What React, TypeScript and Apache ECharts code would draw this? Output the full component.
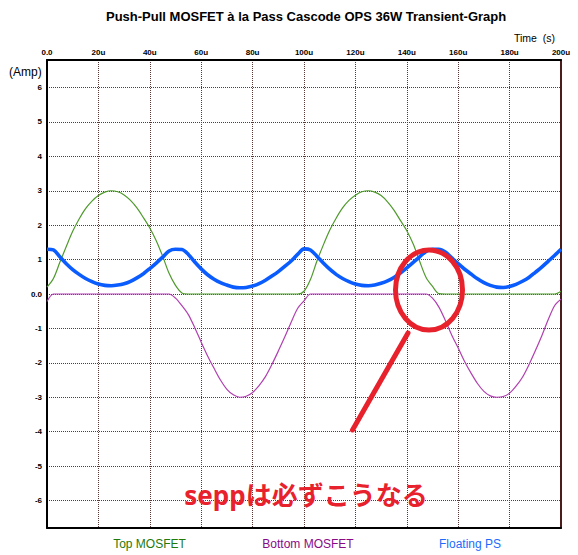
import React, { useEffect, useRef } from "react";
import * as echarts from "echarts";

const titleText = "Push-Pull MOSFET à la Pass Cascode OPS 36W Transient-Graph";
const seriesNames = ["Top MOSFET", "Bottom MOSFET", "Floating PS"];
const xTickValues = [0, 20, 40, 60, 80, 100, 120, 140, 160, 180, 200];
const xTickLabels = ["0.0", "20u", "40u", "60u", "80u", "100u", "120u", "140u", "160u", "180u", "200u"];
const yTickValues = [-6, -5, -4, -3, -2, -1, 0, 1, 2, 3, 4, 5, 6];
const yTickLabels = ["-6", "-5", "-4", "-3", "-2", "-1", "0.0", "1", "2", "3", "4", "5", "6"];

// time in microseconds
const timeUs = [
  0, 2.5, 5, 7.5, 10, 12.5, 15, 17.5, 20, 22.5, 25, 27.5, 30, 32.5, 35, 37.5, 40, 42.5, 45, 47.5,
  50, 52.5, 55, 57.5, 60, 62.5, 65, 67.5, 70, 72.5, 75, 77.5, 80, 82.5, 85, 87.5, 90, 92.5, 95, 97.5,
  100, 102.5, 105, 107.5, 110, 112.5, 115, 117.5, 120, 122.5, 125, 127.5, 130, 132.5, 135, 137.5, 140, 142.5, 145, 147.5,
  150, 152.5, 155, 157.5, 160, 162.5, 165, 167.5, 170, 172.5, 175, 177.5, 180, 182.5, 185, 187.5, 190, 192.5, 195, 197.5,
  200,
];

const topMosfet = [
  0.2, 0.45, 0.92, 1.38, 1.82, 2.18, 2.48, 2.7, 2.86, 2.96, 3.0, 2.97, 2.88, 2.72, 2.5, 2.22, 1.92, 1.55, 1.1, 0.6,
  0.25, 0.03, 0, 0, 0, 0, 0, 0, 0, 0, 0, 0, 0, 0, 0, 0, 0, 0, 0, 0,
  0.08, 0.42, 0.95, 1.42, 1.85, 2.2, 2.5, 2.72, 2.87, 2.97, 3.0, 2.96, 2.86, 2.68, 2.44, 2.14, 1.84, 1.45, 0.95, 0.48,
  0.22, 0.01, 0, 0, 0, 0, 0, 0, 0, 0, 0, 0, 0, 0, 0, 0, 0, 0, 0, 0,
  0.08,
];

const bottomMosfet = [
  -0.22, 0, 0, 0, 0, 0, 0, 0, 0, 0, 0, 0, 0, 0, 0, 0, 0, 0, 0, 0,
  -0.12, -0.34, -0.6, -0.98, -1.4, -1.8, -2.16, -2.5, -2.77, -2.93, -3.0, -2.97, -2.86, -2.66, -2.4, -2.05, -1.66, -1.25, -0.82, -0.42,
  -0.2, 0, 0, 0, 0, 0, 0, 0, 0, 0, 0, 0, 0, 0, 0, 0, 0, 0, 0, 0,
  -0.12, -0.38, -0.77, -1.2, -1.57, -1.96, -2.3, -2.6, -2.83, -2.96, -3.0, -2.98, -2.88, -2.68, -2.42, -2.06, -1.65, -1.22, -0.75, -0.34,
  -0.15,
];

const floatingPs = [
  1.3, 1.28, 1.08, 0.88, 0.71, 0.57, 0.45, 0.36, 0.29, 0.25, 0.24, 0.26, 0.3, 0.37, 0.47, 0.59, 0.74, 0.9, 1.07, 1.25,
  1.3, 1.29, 1.15, 0.93, 0.73, 0.56, 0.43, 0.33, 0.26, 0.2, 0.18, 0.19, 0.23, 0.3, 0.4, 0.52, 0.65, 0.8, 0.96, 1.15,
  1.31, 1.28, 1.1, 0.9, 0.72, 0.57, 0.45, 0.36, 0.29, 0.25, 0.24, 0.26, 0.31, 0.38, 0.48, 0.61, 0.76, 0.92, 1.08, 1.24,
  1.3, 1.3, 1.22, 1.05, 0.88, 0.72, 0.58, 0.44, 0.33, 0.25, 0.2, 0.19, 0.22, 0.28, 0.37, 0.48, 0.63, 0.78, 0.95, 1.12,
  1.3,
];

const FONT = '"Liberation Sans", Arial, sans-serif';

function pairs(values: number[]) {
  return timeUs.map((t, i) => [t, values[i]]);
}

export default function App() {
  const ref = useRef<HTMLDivElement>(null);

  useEffect(() => {
    if (!ref.current) return;
    const chart = echarts.init(ref.current, undefined, { renderer: "svg" });
    const gridLine = { show: true, lineStyle: { color: "#5a3838", width: 1, type: [1, 1] as any } };
    const option: any = {
      animation: false,
      backgroundColor: "#ffffff",
      title: {
        text: titleText,
        left: 106,
        top: 10,
        padding: 0,
        textStyle: { fontFamily: FONT, fontSize: 13, fontWeight: "bold", color: "#000" },
      },
      grid: { left: 47, right: 17, top: 60, bottom: 27, containLabel: false },
      xAxis: [
        {
          type: "value",
          position: "top",
          min: 0,
          max: 200,
          interval: 20,
          axisLine: { show: true, onZero: false, lineStyle: { color: "#000", width: 2 } },
          axisTick: { show: false },
          axisLabel: {
            margin: 4,
            fontFamily: FONT,
            fontSize: 8,
            fontWeight: "bold",
            color: "#000",
            formatter: (v: number) => {
              const i = xTickValues.indexOf(v);
              return i >= 0 ? xTickLabels[i] : "";
            },
          },
          splitLine: gridLine,
        },
        {
          type: "value",
          position: "bottom",
          min: 0,
          max: 200,
          interval: 20,
          axisLine: { show: true, onZero: false, lineStyle: { color: "#000", width: 2 } },
          axisTick: { show: false },
          axisLabel: { show: false },
          splitLine: { show: false },
        },
      ],
      yAxis: [
        {
          type: "value",
          position: "left",
          min: -6.8,
          max: 6.8,
          axisLine: { show: true, onZero: false, lineStyle: { color: "#000", width: 2 } },
          axisTick: { show: false, customValues: yTickValues },
          axisLabel: {
            margin: 5,
            customValues: yTickValues,
            fontFamily: FONT,
            fontSize: 8,
            fontWeight: "bold",
            color: "#000",
            formatter: (v: number) => {
              const i = yTickValues.indexOf(Math.round(v));
              return i >= 0 ? yTickLabels[i] : "";
            },
          },
          splitLine: gridLine,
        },
        {
          type: "value",
          position: "right",
          min: -6.8,
          max: 6.8,
          axisLine: { show: true, onZero: false, lineStyle: { color: "#4a1c1c", width: 2 } },
          axisTick: { show: false },
          axisLabel: { show: false },
          splitLine: { show: false },
        },
      ],
      series: [
        {
          name: seriesNames[0],
          type: "line",
          xAxisIndex: 0,
          yAxisIndex: 0,
          showSymbol: false,
          smooth: 0.3,
          data: pairs(topMosfet),
          lineStyle: { color: "#4f9a2c", width: 1.2 },
          z: 3,
        },
        {
          name: seriesNames[1],
          type: "line",
          xAxisIndex: 0,
          yAxisIndex: 0,
          showSymbol: false,
          smooth: 0.3,
          data: pairs(bottomMosfet),
          lineStyle: { color: "#b040b0", width: 1.2 },
          z: 3,
        },
        {
          name: seriesNames[2],
          type: "line",
          xAxisIndex: 0,
          yAxisIndex: 0,
          showSymbol: false,
          smooth: 0.3,
          data: pairs(floatingPs),
          lineStyle: { color: "#0a5cff", width: 3.6 },
          z: 4,
        },
      ],
      graphic: [
        {
          type: "text",
          x: 555,
          y: 38,
          style: { text: "Time  (s)", font: `10.5px ${FONT}`, fill: "#000", textAlign: "right", verticalAlign: "middle" },
        },
        {
          type: "text",
          x: 9,
          y: 72,
          style: { text: "(Amp)", font: `12px ${FONT}`, fill: "#000", textAlign: "left", verticalAlign: "middle" },
        },
        {
          type: "text",
          x: 149.5,
          y: 544,
          style: { text: seriesNames[0], font: `12px ${FONT}`, fill: "#1f7a0c", textAlign: "center", verticalAlign: "middle" },
        },
        {
          type: "text",
          x: 308,
          y: 544,
          style: { text: seriesNames[1], font: `12px ${FONT}`, fill: "#880a88", textAlign: "center", verticalAlign: "middle" },
        },
        {
          type: "text",
          x: 470,
          y: 544,
          style: { text: seriesNames[2], font: `12px ${FONT}`, fill: "#1a6cff", textAlign: "center", verticalAlign: "middle" },
        },
        {
          type: "ellipse",
          z: 100,
          shape: { cx: 429, cy: 290, rx: 33.5, ry: 40 },
          style: { fill: "none", stroke: "#e8222c", lineWidth: 5 },
        },
        {
          type: "line",
          z: 100,
          shape: { x1: 408, y1: 333, x2: 352.5, y2: 430 },
          style: { stroke: "#e8222c", lineWidth: 5, lineCap: "round" },
        },
        {
          type: "text",
          z: 100,
          x: 306,
          y: 495,
          style: {
            text: "seppは必ずこうなる",
            font: `bold 26px "Noto Sans", "Noto Sans CJK JP", sans-serif`,
            fill: "#e8222c",
            textAlign: "center",
            verticalAlign: "middle",
          },
        },
      ],
    };
    chart.setOption(option);
    return () => chart.dispose();
  }, []);

  return (
    <div
      ref={ref}
      style={{ position: "absolute", left: 0, top: 0, width: 578, height: 555, background: "#fff" }}
    />
  );
}
